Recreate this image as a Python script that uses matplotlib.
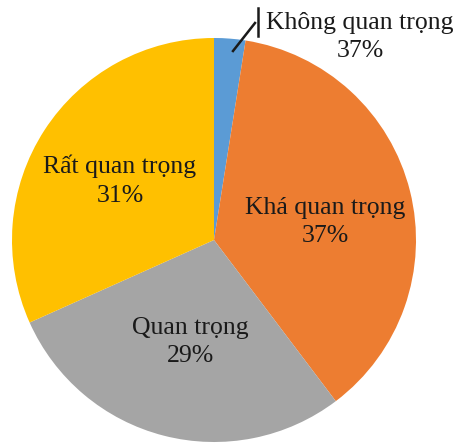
import matplotlib
matplotlib.use("Agg")
import matplotlib.pyplot as plt

categories = ["Không quan trọng", "Khá quan trọng", "Quan trọng", "Rất quan trọng"]
values = [2.5, 37.2, 28.6, 31.7]
label_pcts = ["37%", "37%", "29%", "31%"]
colors = ["#5B9BD5", "#ED7D31", "#A5A5A5", "#FFC000"]

plt.rcParams['font.family'] = ['Liberation Serif', 'DejaVu Serif']

fig = plt.figure(figsize=(4.61, 4.46), dpi=100)
ax = fig.add_axes([12/461, 4/446, 404/461, 404/446])
ax.pie(values, colors=colors, startangle=90, counterclock=False, radius=1,
       wedgeprops=dict(linewidth=0))
ax.set_xlim(-1, 1)
ax.set_ylim(-1, 1)
ax.set_aspect('equal')
ax.axis('off')

def px(x, y):
    return ((x - 214) / 202, (240 - y) / 202)

positions = [px(360, 37), px(325, 222), px(190, 342), px(120, 181)]
for cat, pct, (x, y) in zip(categories, label_pcts, positions):
    ax.text(x, y, f"{cat}\n{pct}", ha='center', va='center', fontsize=18.5,
            color='#1a1a1a', linespacing=1.4, clip_on=False)

x0, y0 = px(233, 51)
x1, y1 = px(255, 23)
ax.plot([x0, x1], [y0, y1], color='#1a1a1a', lw=1.8, clip_on=False)
xa, ya = px(258, 8)
xb, yb = px(258, 36)
ax.plot([xa, xb], [ya, yb], color='#1a1a1a', lw=1.8, clip_on=False)

fig.savefig("out.png", dpi=100)
